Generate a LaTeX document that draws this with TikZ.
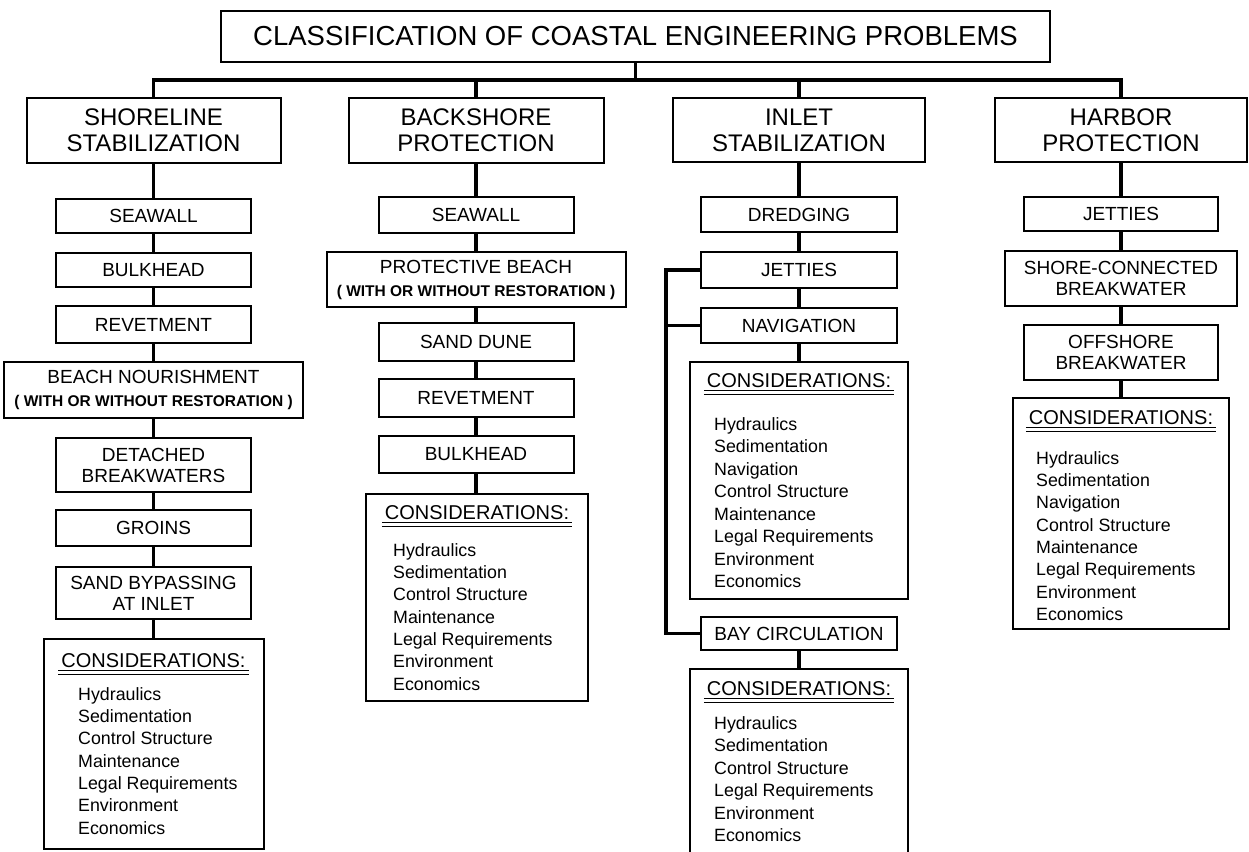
\documentclass[tikz,border=0pt]{standalone}
\usepackage{fontspec}
\setmainfont{Liberation Sans}
\usetikzlibrary{calc}
\newcommand\myfs[2]{\fontsize{#1}{#2}\selectfont}
\newcommand\smallb{\bfseries\myfs{15.5}{17}}
\tikzset{
  box/.style={draw, line width=2pt, inner sep=0pt, align=center},
  cat/.style={box, minimum width=254pt, minimum height=65pt, font=\myfs{24}{26}},
  itm/.style={box, minimum width=195pt, font=\myfs{19}{21}},
  consbox/.style={draw, line width=2pt, inner sep=0pt},
  conn/.style={line width=3.5pt},
  hdr/.style={inner xsep=3pt, inner ysep=0pt, text height=14.3pt, text depth=0pt, font=\myfs{20}{22}},
  ulA/.style={line width=1.6pt},
  ulB/.style={line width=1.2pt},
  itemtxt/.style={anchor=west, inner sep=0pt, text height=12.7pt, text depth=0pt, font=\myfs{17.8}{20}},
}
\begin{document}
\begin{tikzpicture}[x=1pt,y=-1pt]
\useasboundingbox (0,0) rectangle (1249,851);
\fill[white] (0,0) rectangle (1249,851);

% title
\node[box, minimum width=829pt, minimum height=51pt, font=\myfs{27.5}{30}] (title) at (635.5,36.5) {CLASSIFICATION OF COASTAL ENGINEERING PROBLEMS};

% categories
\node[cat] (cat1) at (153.5,130.5) {SHORELINE\\STABILIZATION};
\node[cat, minimum width=255pt] (cat2) at (476,130.5) {BACKSHORE\\PROTECTION};
\node[cat, minimum width=252pt, minimum height=64pt] (cat3) at (799,130) {INLET\\STABILIZATION};
\node[cat, minimum width=252pt, minimum height=64pt] (cat4) at (1121,130) {HARBOR\\PROTECTION};

\coordinate (bar) at (637,80);
\draw[conn] (title.south) -- (title.south |- bar);
\draw[conn] (cat1.north) -- (cat1.north |- bar) -- (cat4.north |- bar) -- (cat4.north);
\draw[conn] (cat2.north) -- (cat2.north |- bar);
\draw[conn] (cat3.north) -- (cat3.north |- bar);

% column 1
\node[itm, minimum height=34pt] (s1) at (153.5,216) {SEAWALL};
\node[itm, minimum height=34pt] (b1) at (153.5,270) {BULKHEAD};
\node[itm, minimum height=37pt] (r1) at (153.5,324.5) {REVETMENT};
\node[itm, minimum width=299pt, minimum height=56pt] (bn1) at (153.5,390) {BEACH NOURISHMENT\\[2pt]{\smallb ( WITH OR WITHOUT RESTORATION )}};
\node[itm, minimum height=54pt] (db1) at (153.5,465) {DETACHED\\BREAKWATERS};
\node[itm, minimum height=36pt] (g1) at (153.5,528) {GROINS};
\node[itm, minimum height=52pt] (sb1) at (153.5,593) {SAND BYPASSING\\AT INLET};
\node[consbox, minimum width=220pt, minimum height=210pt] (c1) at (153.5,744) {};
\draw[conn] (cat1) -- (s1);
\draw[conn] (s1) -- (b1);
\draw[conn] (b1) -- (r1);
\draw[conn] (r1) -- (bn1);
\draw[conn] (bn1) -- (db1);
\draw[conn] (db1) -- (g1);
\draw[conn] (g1) -- (sb1);
\draw[conn] (sb1) -- (c1);
\node[hdr] (c1h) at (153.5,660) {CONSIDERATIONS:};
\draw[ulA] ($(c1h.south west)+(0,3)$) -- ($(c1h.south east)+(0,3)$);
\draw[ulB] ($(c1h.south west)+(0,7)$) -- ($(c1h.south east)+(0,7)$);
\foreach \t [count=\i from 0] in {Hydraulics,Sedimentation,Control Structure,Maintenance,Legal Requirements,Environment,Economics}
  \node[itemtxt] (c1i\i) at (78,{694+22.3*\i}) {\t};

% column 2
\node[itm, minimum height=36pt] (s2) at (476,215) {SEAWALL};
\node[itm, minimum width=299pt, minimum height=55pt] (pb2) at (476,279.5) {PROTECTIVE BEACH\\[2pt]{\smallb ( WITH OR WITHOUT RESTORATION )}};
\node[itm, minimum height=38pt] (sd2) at (476,342) {SAND DUNE};
\node[itm, minimum height=38pt] (r2) at (476,398) {REVETMENT};
\node[itm, minimum height=37pt] (bk2) at (476,454.5) {BULKHEAD};
\node[consbox, minimum width=222pt, minimum height=207pt] (c2) at (477,597.5) {};
\draw[conn] (cat2) -- (s2);
\draw[conn] (s2) -- (pb2);
\draw[conn] (pb2) -- (sd2);
\draw[conn] (sd2) -- (r2);
\draw[conn] (r2) -- (bk2);
\draw[conn] (bk2.south) -- (bk2.south |- c2.north);
\node[hdr] (c2h) at (477,512) {CONSIDERATIONS:};
\draw[ulA] ($(c2h.south west)+(0,3)$) -- ($(c2h.south east)+(0,3)$);
\draw[ulB] ($(c2h.south west)+(0,7)$) -- ($(c2h.south east)+(0,7)$);
\foreach \t [count=\i from 0] in {Hydraulics,Sedimentation,Control Structure,Maintenance,Legal Requirements,Environment,Economics}
  \node[itemtxt] (c2i\i) at (393,{550+22.3*\i}) {\t};

% column 3
\node[itm, minimum width=196pt, minimum height=35pt] (dr3) at (799,214.5) {DREDGING};
\node[itm, minimum width=196pt, minimum height=36pt] (j3) at (799,270) {JETTIES};
\node[itm, minimum width=196pt, minimum height=35pt] (n3) at (799,325.5) {NAVIGATION};
\node[consbox, minimum width=218pt, minimum height=237pt] (c3) at (799,480.5) {};
\node[itm, minimum width=196pt, minimum height=33pt] (bc3) at (799,633.5) {BAY CIRCULATION};
\node[consbox, minimum width=218pt, minimum height=190pt] (c3b) at (799,764) {};
\draw[conn] (cat3) -- (dr3);
\draw[conn] (dr3) -- (j3);
\draw[conn] (j3) -- (n3);
\draw[conn] (n3) -- (c3);
\draw[conn] (bc3) -- (c3b);
\coordinate (bk) at (666,0);
\draw[conn] (j3.west) -| (bk |- bc3.west) -- (bc3.west);
\draw[conn] (n3.west) -- (n3.west -| bk);
\node[hdr] (c3h) at (799,380) {CONSIDERATIONS:};
\draw[ulA] ($(c3h.south west)+(0,3)$) -- ($(c3h.south east)+(0,3)$);
\draw[ulB] ($(c3h.south west)+(0,7)$) -- ($(c3h.south east)+(0,7)$);
\foreach \t [count=\i from 0] in {Hydraulics,Sedimentation,Navigation,Control Structure,Maintenance,Legal Requirements,Environment,Economics}
  \node[itemtxt] (c3i\i) at (714,{424+22.5*\i}) {\t};
\node[hdr] (c3bh) at (799,688) {CONSIDERATIONS:};
\draw[ulA] ($(c3bh.south west)+(0,3)$) -- ($(c3bh.south east)+(0,3)$);
\draw[ulB] ($(c3bh.south west)+(0,7)$) -- ($(c3bh.south east)+(0,7)$);
\foreach \t [count=\i from 0] in {Hydraulics,Sedimentation,Control Structure,Legal Requirements,Environment,Economics}
  \node[itemtxt] (c3bi\i) at (714,{723+22.5*\i}) {\t};

% column 4
\node[itm, minimum width=194pt, minimum height=34pt] (j4) at (1121,214) {JETTIES};
\node[itm, minimum width=232pt, minimum height=55pt] (sc4) at (1121,278.5) {SHORE-CONNECTED\\BREAKWATER};
\node[itm, minimum width=194pt, minimum height=55pt] (ob4) at (1121,352.5) {OFFSHORE\\BREAKWATER};
\node[consbox, minimum width=216pt, minimum height=231pt] (c4) at (1121,513.5) {};
\draw[conn] (cat4) -- (j4);
\draw[conn] (j4) -- (sc4);
\draw[conn] (sc4) -- (ob4);
\draw[conn] (ob4) -- (c4);
\node[hdr] (c4h) at (1121,417) {CONSIDERATIONS:};
\draw[ulA] ($(c4h.south west)+(0,3)$) -- ($(c4h.south east)+(0,3)$);
\draw[ulB] ($(c4h.south west)+(0,7)$) -- ($(c4h.south east)+(0,7)$);
\foreach \t [count=\i from 0] in {Hydraulics,Sedimentation,Navigation,Control Structure,Maintenance,Legal Requirements,Environment,Economics}
  \node[itemtxt] (c4i\i) at (1036,{458+22.3*\i}) {\t};
\end{tikzpicture}
\end{document}
